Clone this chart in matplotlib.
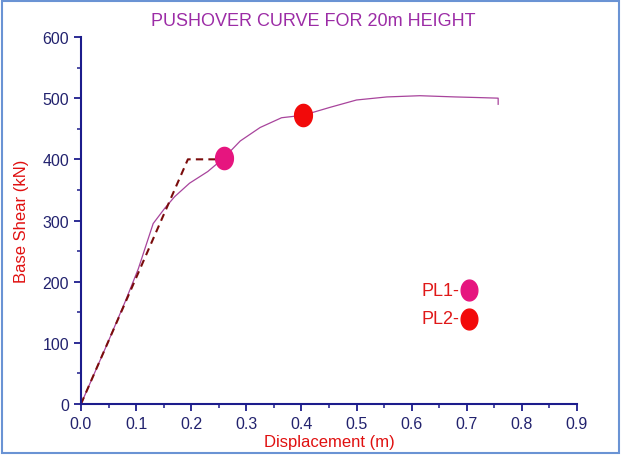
import matplotlib
matplotlib.use('Agg')
import matplotlib.pyplot as plt
import numpy as np
from matplotlib.patches import Rectangle
from matplotlib.path import Path
from matplotlib.ticker import MultipleLocator

plt.rcParams['font.family'] = ['Liberation Sans', 'DejaVu Sans']

# pushover curve
disp = [0.0, 0.049, 0.080, 0.104, 0.131, 0.152, 0.170, 0.197, 0.230, 0.259,
        0.289, 0.325, 0.364, 0.403, 0.452, 0.500, 0.555, 0.615, 0.679, 0.720,
        0.757, 0.757]
shear = [0, 101, 167, 221, 295, 320, 339, 361, 380, 402,
         430, 452, 468, 472, 485, 497, 502, 504, 502, 501,
         500, 490]

# idealised bilinear curve
bi_disp = [0.0, 0.194, 0.259]
bi_shear = [0, 400, 400]

# performance points
pl_names = ['PL1-', 'PL2-']
pl_disp = [0.259, 0.403]
pl_shear = [402, 472]
pl_colors = ['#e6157f', '#f20a0a']

# legend positions
leg_x = 0.704
leg_y = [186, 139]

navy = '#1c1c8c'

# slightly tall ellipse marker
t = np.linspace(0, 2 * np.pi, 60)
ellipse = Path(np.column_stack([0.8 * np.cos(t), np.sin(t)]), closed=True)

fig = plt.figure(figsize=(6.21, 4.56), dpi=100)
ax = fig.add_axes([0.1304, 0.1118, 0.7987, 0.8049])

ax.plot(disp, shear, color='#a8449c', lw=0.9)
ax.plot(bi_disp, bi_shear, color='#7a0c0c', lw=1.5, ls=(0, (3.5, 2.5)))
for x, y, c in zip(pl_disp, pl_shear, pl_colors):
    ax.plot(x, y, marker=ellipse, ms=16, color=c, mec=c, zorder=5)

for name, y, c in zip(pl_names, leg_y, pl_colors):
    ax.plot(leg_x, y, marker=ellipse, ms=15, color=c, mec=c, clip_on=False)
    ax.text(leg_x - 0.017, y, name, color='#e01818', fontsize=13,
            ha='right', va='center')

ax.set_xlim(0, 0.9)
ax.set_ylim(0, 600)
ax.xaxis.set_major_locator(MultipleLocator(0.1))
ax.xaxis.set_minor_locator(MultipleLocator(0.05))
ax.yaxis.set_major_locator(MultipleLocator(100))
ax.yaxis.set_minor_locator(MultipleLocator(50))
ax.xaxis.set_major_formatter(lambda v, p: f'{v:.1f}')

for s in ['top', 'right']:
    ax.spines[s].set_visible(False)
for s in ['left', 'bottom']:
    ax.spines[s].set_color(navy)
    ax.spines[s].set_linewidth(1.5)
ax.tick_params(which='major', direction='out', length=5, width=1.3,
               color=navy, labelcolor='#22226e', labelsize=11.5)
ax.tick_params(which='minor', direction='out', length=3, width=1.1, color=navy)

ax.set_xlabel('Displacement (m)', color='#e01010', fontsize=12, labelpad=2)
ax.set_ylabel('Base Shear (kN)', color='#e01010', fontsize=12, labelpad=10)
fig.text(0.505, 0.953, 'PUSHOVER CURVE FOR 20m HEIGHT', color='#9c2ca6',
         fontsize=13, ha='center', va='center')

fig.patches.append(Rectangle((0.003, 0.004), 0.994, 0.992, transform=fig.transFigure,
                             fill=False, edgecolor='#6a93d4', lw=1.5))

fig.savefig('out.png', dpi=100)
